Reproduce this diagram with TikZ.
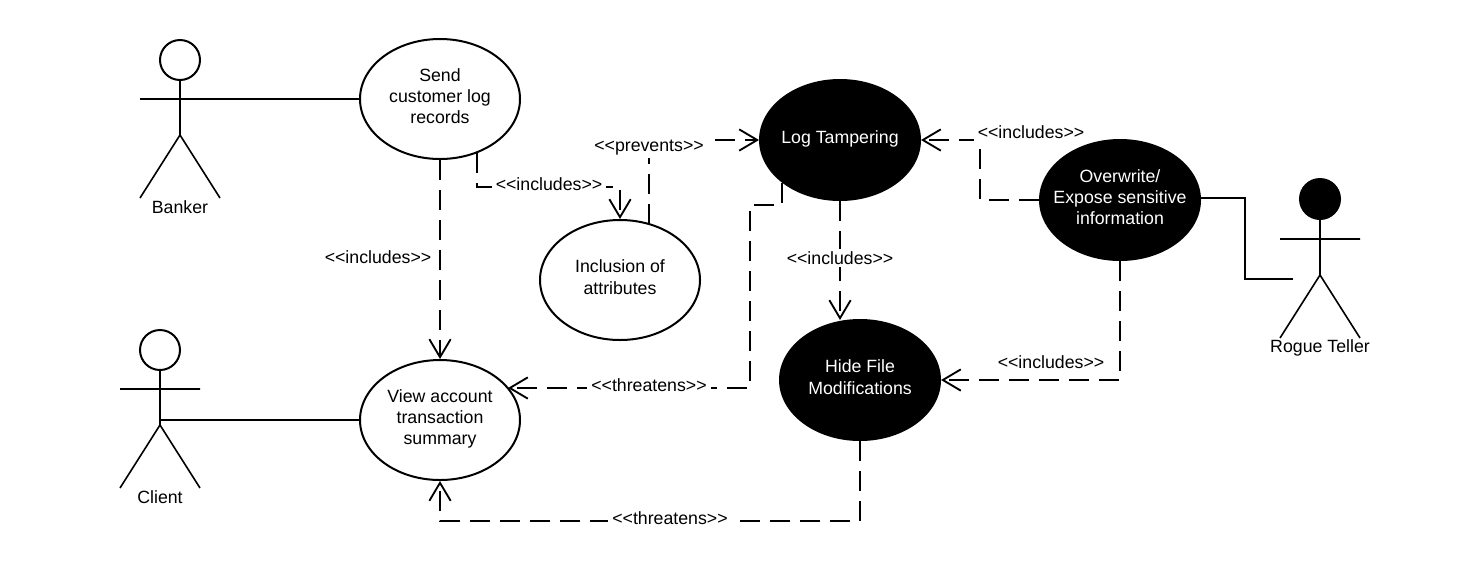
\documentclass[tikz,border=0pt]{standalone}
\usepackage{fontspec}
\setmainfont{Liberation Sans}
\usetikzlibrary{shapes.geometric,arrows.meta}
\tikzset{
  usecase/.style={ellipse,draw=black,line width=1.5pt,minimum width=120pt,minimum height=90pt,inner ysep=0pt,inner xsep=-12pt,align=center,font=\txt,text depth=4.5pt},
  lightcase/.style={usecase,fill=white,text=black},
  darkcase/.style={usecase,fill=black,text=white},
  solidline/.style={line width=1.5pt,draw=black},
  limb/.style={line width=1.2pt,draw=black},
  head/.style={circle,draw=black,line width=1.5pt,minimum size=30pt,inner sep=0pt},
  actorname/.style={font=\txt,inner sep=1pt},
  dep/.style={line width=1.5pt,draw=black,dash pattern=on 15pt off 7.5pt},
  depopen/.style={dep,-{Straight Barb[length=13.5pt,width=16pt,line width=1.4pt]}},
  tag/.style={font=\txt,fill=white,inner xsep=3pt,inner ysep=1.5pt},
  freetag/.style={font=\txt,inner sep=1pt}
}
\newcommand{\txt}{\fontsize{13.3}{16}\selectfont}
\begin{document}
\begin{tikzpicture}[x=0.75pt,y=-0.75pt]
\useasboundingbox (0,0) rectangle (1480,572);
\fill[white] (0,0) rectangle (1480,572);
% use cases
\node[lightcase] (send) at (440,99) {Send\\customer log\\records};
\node[lightcase] (incl) at (620,280) {Inclusion of\\attributes};
\node[lightcase] (view) at (440,420) {View account\\transaction\\summary};
\node[darkcase] (log) at (840,140) {Log Tampering};
\node[darkcase] (hide) at (860,380) {Hide File\\Modifications};
\node[darkcase] (over) at (1120,200) {Overwrite/\\Expose sensitive\\information};
% Banker
\node[head] (bh) at (180,60) {};
\coordinate (bn) at (180,99);
\coordinate (bw) at (140,99);
\coordinate (be) at (220,99);
\coordinate (bc) at (180,135);
\coordinate (bl) at (140,198);
\coordinate (br) at (220,198);
\draw[limb] (bh.south) -- (bc) (bw) -- (be) (bl) -- (bc) -- (br);
\node[actorname] (bname) at (180,207) {Banker};
% Client
\node[head] (ch) at (160,350) {};
\coordinate (cw) at (120,389);
\coordinate (ce) at (200,389);
\coordinate (cc) at (160,425);
\coordinate (cl) at (120,488);
\coordinate (cr) at (200,488);
\coordinate (cs) at (160,420);
\draw[limb] (ch.south) -- (cc) (cw) -- (ce) (cl) -- (cc) -- (cr);
\node[actorname] (cname) at (160,497) {Client};
% Rogue Teller
\node[head,fill=black] (rh) at (1320,199) {};
\coordinate (rw) at (1280,239);
\coordinate (re) at (1360,239);
\coordinate (rc) at (1320,275);
\coordinate (rl) at (1280,338);
\coordinate (rr) at (1360,338);
\draw[limb] (rh.south) -- (rc) (rw) -- (re) (rl) -- (rc) -- (rr);
\node[actorname] (rname) at (1320,348) {Rogue Teller};
% associations
\draw[solidline] (be) -- (send.west);
\draw[solidline] (cs) -- (view.west);
\coordinate (r1) at (1245,198);
\coordinate (r2) at (1245,279);
\coordinate (r3) at (1293,279);
\coordinate (r0) at (1199,198);
\draw[solidline] (r0) -- (r1) -- (r2) -- (r3);
% dependencies
\draw[depopen] (send.south) -- (view.north);
\coordinate (s0) at (477,153);
\coordinate (s1) at (477,187);
\coordinate (s2) at (620,187);
\draw[depopen] (s0) -- (s1) -- (s2) -- (incl.north);
\coordinate (i0) at (649,224);
\coordinate (i1) at (649,140);
\draw[depopen] (i0) -- (i1) -- (log.west);
\coordinate (l0) at (782,183);
\coordinate (l1) at (782,205);
\coordinate (l2) at (750,205);
\coordinate (l3) at (750,388);
\coordinate (v1) at (508,388);
\draw[depopen] (l0) -- (l1) -- (l2) -- (l3) -- (v1);
\coordinate (o1) at (980,200);
\coordinate (o2) at (980,140);
\draw[depopen] (over.west) -- (o1) -- (o2) -- (log.east);
\coordinate (o3) at (1120,380);
\draw[depopen] (over.south) -- (o3) -- (hide.east);
\coordinate (h0) at (840,320);
\draw[depopen] (log.south) -- (h0);
\coordinate (h1) at (860,521);
\coordinate (h2) at (440,521);
\draw[depopen] (hide.south) -- (h1) -- (h2) -- (view.south);
% labels
\node[freetag] (t1) at (378,257) {<{}<includes>{}>};
\node[tag] (t2) at (549,184) {<{}<includes>{}>};
\node[tag] (t3) at (649,148) {<{}<prevents>{}>};
\node[tag] (t4) at (649,385) {<{}<threatens>{}>};
\node[tag] (t5) at (1031,132) {<{}<includes>{}>};
\node[tag] (t6) at (1051,362) {<{}<includes>{}>};
\node[tag] (t7) at (840,258) {<{}<includes>{}>};
\node[tag] (t8) at (670,518) {<{}<threatens>{}>};
\end{tikzpicture}
\end{document}
